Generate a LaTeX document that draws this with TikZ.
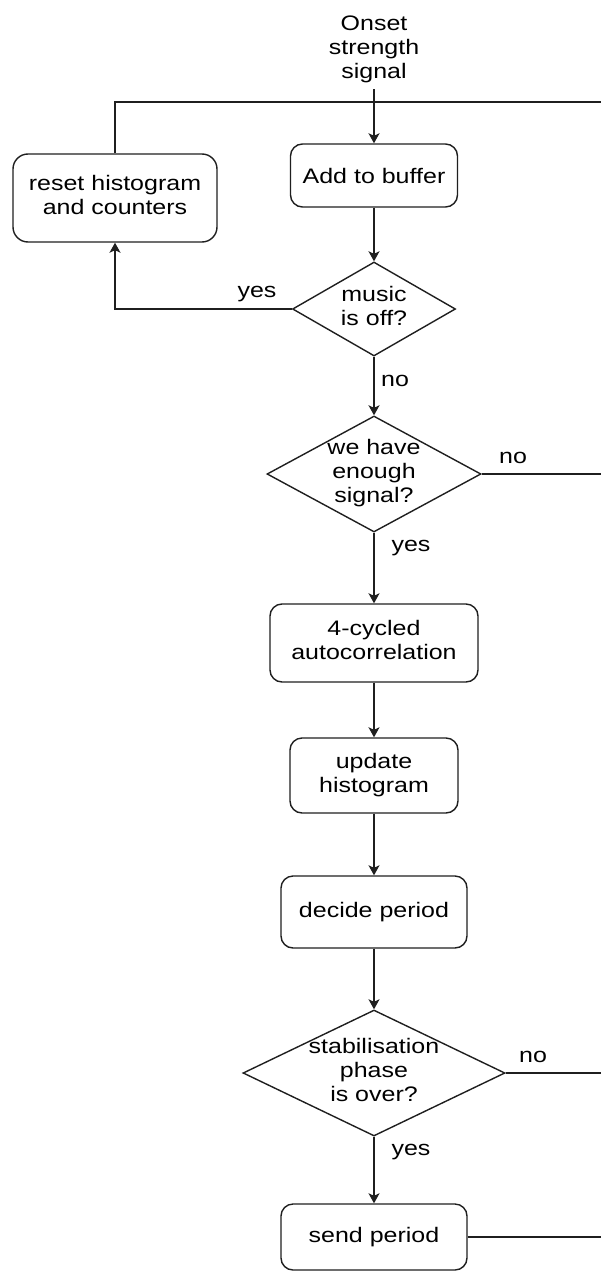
\documentclass[tikz,border=0pt]{standalone}
\usepackage{fontspec}
\setmainfont{Liberation Sans}
\usetikzlibrary{arrows.meta,shapes.geometric}

% text is set slightly wide
\newcommand{\wide}[1]{\scalebox{1.19}[1]{#1}}
\newcommand{\lines}[1]{\wide{\begin{tabular}{@{}c@{}}#1\end{tabular}}}

\tikzset{
  flow/.style={line width=1.4pt, draw=black!88},
  arr/.style={flow, -{Stealth[length=10pt,width=11pt,inset=2.5pt]}},
  stepbox/.style={draw=black!88, line width=1.4pt, rounded corners=12pt,
                  fill=white, inner sep=0pt},
  decision/.style={diamond, draw=black!88, line width=1.4pt, inner sep=0pt,
                   fill=white},
  txt/.style={inner sep=0pt, font=\fontsize{21}{24}\selectfont},
}

\begin{document}
\begin{tikzpicture}[x=1pt, y=-1pt, font=\fontsize{21}{24}\selectfont]
  \useasboundingbox (0,0) rectangle (601,1271);

  % input
  \node[txt, inner ysep=3pt] (onset) at (374,50) {\lines{Onset\\strength\\signal}};

  % process boxes
  \node[stepbox, minimum width=167pt, minimum height=63pt] (add) at (374,175.5) {\wide{Add to buffer}};
  \node[stepbox, minimum width=204pt, minimum height=88pt, rounded corners=15pt] (reset) at (115,198) {\lines{reset histogram\\and counters}};
  \node[stepbox, minimum width=208pt, minimum height=78pt] (acorr) at (374,643) {\lines{4-cycled\\autocorrelation}};
  \node[stepbox, minimum width=168pt, minimum height=75pt] (hist) at (374,775.5) {\lines{update\\histogram}};
  \node[stepbox, minimum width=186pt, minimum height=72pt] (decide) at (374,912) {\wide{decide period}};
  \node[stepbox, minimum width=186pt, minimum height=66pt] (send) at (374,1237) {\wide{send period}};

  % decisions
  \node[decision, minimum width=163pt, minimum height=94pt] (music) at (374,309) {};
  \node[txt] (musict) at (music) {\lines{music\\is off?}};
  \node[decision, minimum width=214pt, minimum height=116pt] (enough) at (374,474) {};
  \node[txt] (enought) at (enough) {\lines{we have\\enough\\signal?}};
  \node[decision, minimum width=262pt, minimum height=126pt] (stab) at (374,1073) {};
  \node[txt] (stabt) at (stab) {\lines{stabilisation\\phase\\is over?}};

  % loop-back bus along the top and right edge
  \coordinate (busA) at (602,102);
  \coordinate (busB) at (602,474);
  \coordinate (busC) at (602,1073);
  \coordinate (busD) at (602,1237);

  % connectors
  \draw[flow] (reset.north) |- (busA);
  \draw[arr] (onset.south) -- (add.north);
  \draw[arr] (add.south) -- (music.north);
  \draw[arr] (music.west) -| (reset.south);
  \draw[arr] (music.south) -- (enough.north);
  \draw[flow] (enough.east) -- (busB);
  \draw[arr] (enough.south) -- (acorr.north);
  \draw[arr] (acorr.south) -- (hist.north);
  \draw[arr] (hist.south) -- (decide.north);
  \draw[arr] (decide.south) -- (stab.north);
  \draw[flow] (stab.east) -- (busC);
  \draw[arr] (stab.south) -- (send.north);
  \draw[flow] (send.east) -- (busD);

  % branch labels
  \node[txt] (lyes1) at (257,294) {\wide{yes}};
  \node[txt] (lno1) at (395,381) {\wide{no}};
  \node[txt] (lno2) at (513,458) {\wide{no}};
  \node[txt] (lyes2) at (411,548) {\wide{yes}};
  \node[txt] (lno3) at (533,1057) {\wide{no}};
  \node[txt] (lyes3) at (411,1152) {\wide{yes}};
\end{tikzpicture}
\end{document}
